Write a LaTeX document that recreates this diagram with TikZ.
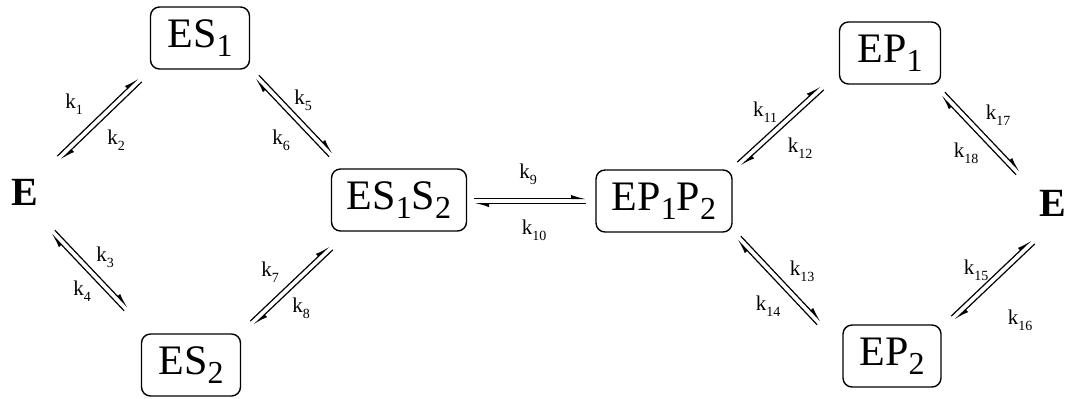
\documentclass[tikz,border=0pt]{standalone}
\usepackage{fontspec}
\setmainfont{Liberation Serif}
\usetikzlibrary{arrows.meta,calc}
\newcommand\subn[1]{\raisebox{-4.5pt}{\fontsize{16pt}{16pt}\selectfont #1}}
\newcommand\ksub[1]{k\raisebox{-3pt}{\fontsize{7pt}{7pt}\selectfont #1}}
\newcommand\eqpair[2]{%
  \draw[harp] ($(#1)!1.3pt!90:(#2)$) -- ($(#2)!1.3pt!-90:(#1)$);
  \draw[harp] ($(#2)!1.3pt!90:(#1)$) -- ($(#1)!1.3pt!-90:(#2)$);}
\tikzset{
  species/.style={draw, rounded corners=4.5pt, line width=0.7pt, minimum height=31pt,
    inner xsep=7pt, inner ysep=0pt, font=\fontsize{21pt}{21pt}\selectfont},
  enz/.style={font=\fontsize{20pt}{20pt}\selectfont\bfseries, inner sep=0pt},
  klab/.style={font=\fontsize{10.5pt}{10.5pt}\selectfont, inner sep=0pt},
  harp/.style={line width=0.6pt, -{Latex[harpoon,length=6pt,width=3.6pt]}}
}
\begin{document}
\begin{tikzpicture}[x=0.5pt,y=-0.5pt]
\useasboundingbox (0,0) rectangle (1068,398);
% species
\node[enz] (E1) at (25,192) {E};
\node[enz] (E2) at (1053,203) {E};
\node[species, minimum width=49.5pt] (ES1) at (200,38) {ES\subn{1}};
\node[species, minimum width=49.5pt] (ES2) at (191,365) {ES\subn{2}};
\node[species, minimum width=67.5pt] (ES1S2) at (399,200) {ES\subn{1}S\subn{2}};
\node[species, minimum width=68pt] (EP1P2) at (664,201) {EP\subn{1}P\subn{2}};
\node[species, minimum width=50.5pt] (EP1) at (890,53) {EP\subn{1}};
\node[species, minimum width=49pt] (EP2) at (892,356) {EP\subn{2}};
% connector end points
\coordinate (a1) at (59,158);  \coordinate (b1) at (140,80);
\coordinate (a2) at (257,77);  \coordinate (b2) at (331,155);
\coordinate (a3) at (53,232);  \coordinate (b3) at (126,309);
\coordinate (a4) at (252,323); \coordinate (b4) at (331,248);
\coordinate (a5) at (474,201); \coordinate (b5) at (586,201);
\coordinate (a6) at (739,164); \coordinate (b6) at (822,88);
\coordinate (a7) at (943,94);  \coordinate (b7) at (1018,173);
\coordinate (a8) at (739,238); \coordinate (b8) at (819,323);
\coordinate (a9) at (953,318); \coordinate (b9) at (1033,242);
\eqpair{a1}{b1}
\eqpair{a2}{b2}
\eqpair{a3}{b3}
\eqpair{a4}{b4}
\eqpair{a5}{b5}
\eqpair{a6}{b6}
\eqpair{a7}{b7}
\eqpair{a8}{b8}
\eqpair{a9}{b9}
% rate constants
\node[klab] (k1) at (74,104) {\ksub{1}};
\node[klab] (k2) at (116,140) {\ksub{2}};
\node[klab] (k3) at (105,257) {\ksub{3}};
\node[klab] (k4) at (82,291) {\ksub{4}};
\node[klab] (k5) at (303,100) {\ksub{5}};
\node[klab] (k6) at (281,140) {\ksub{6}};
\node[klab] (k7) at (270,272) {\ksub{7}};
\node[klab] (k8) at (301,308) {\ksub{8}};
\node[klab] (k9) at (528,174) {\ksub{9}};
\node[klab] (k10) at (534,230) {\ksub{10}};
\node[klab] (k11) at (765,112) {\ksub{11}};
\node[klab] (k12) at (800,148) {\ksub{12}};
\node[klab] (k13) at (802,271) {\ksub{13}};
\node[klab] (k14) at (768,306) {\ksub{14}};
\node[klab] (k15) at (976,270) {\ksub{15}};
\node[klab] (k16) at (1020,320) {\ksub{16}};
\node[klab] (k17) at (998,115) {\ksub{17}};
\node[klab] (k18) at (966,153) {\ksub{18}};
\end{tikzpicture}
\end{document}
